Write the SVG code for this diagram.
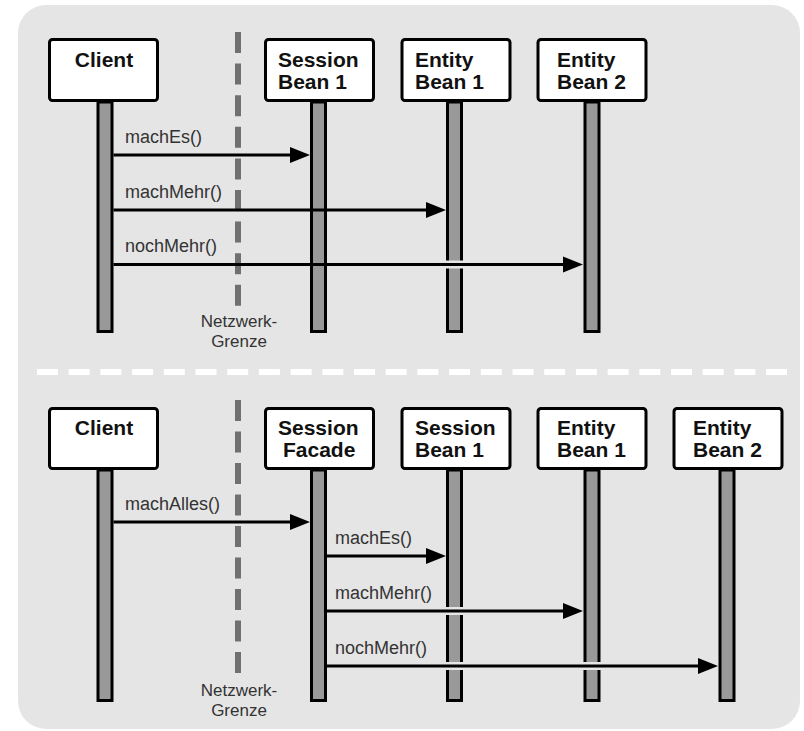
<svg xmlns="http://www.w3.org/2000/svg" width="804" height="731" viewBox="0 0 804 731">
<defs>
<marker id="ah" markerUnits="userSpaceOnUse" markerWidth="20" markerHeight="16" refX="10" refY="8" orient="auto" overflow="visible">
<path d="M0,0 L20,8 L0,16 Z" fill="#000"/>
</marker>
</defs>
<style>
.box{fill:#fff;stroke:#000;stroke-width:3}
.life{fill:#999;stroke:#000;stroke-width:3}
.lbl{font-family:"Liberation Sans",Arial,sans-serif;font-size:21px;font-weight:bold;fill:#111}
.msg{font-family:"Liberation Sans",Arial,sans-serif;font-size:18px;fill:#333}
.nt{font-family:"Liberation Sans",Arial,sans-serif;font-size:17px;fill:#333}
.net{fill:none;stroke:#707070;stroke-width:6}
.halo{stroke:#e5e5e5;stroke-width:8;fill:none}
.arr{stroke:#000;stroke-width:3;fill:none;marker-end:url(#ah)}
</style>
<rect x="18" y="5" width="782" height="724" rx="28" fill="#e5e5e5"/>
<line x1="37" y1="372" x2="787" y2="372" stroke="#fff" stroke-width="6" stroke-dasharray="21 10.7"/>

<g id="network-top">
<line class="net" x1="238" y1="32" x2="238" y2="306" stroke-dasharray="21 10.6"/>
<text class="nt" text-anchor="middle" x="239" y="327">Netzwerk-</text>
<text class="nt" text-anchor="middle" x="239" y="347">Grenze</text>
</g>
<g id="network-bottom">
<line class="net" x1="238" y1="400" x2="238" y2="673" stroke-dasharray="21 10.5"/>
<text class="nt" text-anchor="middle" x="239" y="696">Netzwerk-</text>
<text class="nt" text-anchor="middle" x="239" y="716">Grenze</text>
</g>

<!-- top section nodes -->
<g id="t-client">
<rect class="life" x="98" y="102" width="14" height="229.5"/>
<rect class="box" x="49.5" y="39.5" width="108" height="61" rx="3"/>
<text class="lbl" text-anchor="middle" x="104" y="67">Client</text>
</g>
<g id="t-session1">
<rect class="life" x="311.5" y="102" width="14" height="229.5"/>
<rect class="box" x="265.5" y="39.5" width="108" height="61" rx="3"/>
<text class="lbl" x="278" y="67">Session</text>
<text class="lbl" x="278" y="89">Bean 1</text>
</g>
<g id="t-entity1">
<rect class="life" x="447.5" y="102" width="14" height="229.5"/>
<rect class="box" x="402" y="39.5" width="108" height="61" rx="3"/>
<text class="lbl" x="415" y="67">Entity</text>
<text class="lbl" x="415" y="89">Bean 1</text>
</g>
<g id="t-entity2">
<rect class="life" x="585" y="102" width="14" height="229.5"/>
<rect class="box" x="538" y="39.5" width="108" height="61" rx="3"/>
<text class="lbl" x="557" y="67">Entity</text>
<text class="lbl" x="557" y="89">Bean 2</text>
</g>

<!-- bottom section nodes -->
<g id="b-client">
<rect class="life" x="98" y="470" width="14" height="230.5"/>
<rect class="box" x="49.5" y="408.5" width="108" height="60" rx="3"/>
<text class="lbl" text-anchor="middle" x="104" y="435">Client</text>
</g>
<g id="b-facade">
<rect class="life" x="311.5" y="470" width="14" height="230.5"/>
<rect class="box" x="265.5" y="408.5" width="108" height="60" rx="3"/>
<text class="lbl" x="278" y="435">Session</text>
<text class="lbl" x="283" y="457">Facade</text>
</g>
<g id="b-session1">
<rect class="life" x="447.5" y="470" width="14" height="230.5"/>
<rect class="box" x="402" y="408.5" width="108" height="60" rx="3"/>
<text class="lbl" x="415" y="435">Session</text>
<text class="lbl" x="415" y="457">Bean 1</text>
</g>
<g id="b-entity1">
<rect class="life" x="585" y="470" width="14" height="230.5"/>
<rect class="box" x="538" y="408.5" width="108" height="60" rx="3"/>
<text class="lbl" x="557" y="435">Entity</text>
<text class="lbl" x="557" y="457">Bean 1</text>
</g>
<g id="b-entity2">
<rect class="life" x="720" y="470" width="14" height="230.5"/>
<rect class="box" x="674" y="408.5" width="108" height="60" rx="3"/>
<text class="lbl" x="693" y="435">Entity</text>
<text class="lbl" x="693" y="457">Bean 2</text>
</g>

<g id="connectors">
<line class="halo" x1="330" y1="264.5" x2="572" y2="264.5"/>
<line class="halo" x1="330" y1="611" x2="572" y2="611"/>
<line class="halo" x1="330" y1="666" x2="708" y2="666"/>
<line class="arr" x1="113.5" y1="155" x2="300" y2="155"/>
<text class="msg" x="125" y="143">machEs()</text>
<line class="arr" x1="113.5" y1="210" x2="436" y2="210"/>
<text class="msg" x="125" y="198">machMehr()</text>
<line class="arr" x1="113.5" y1="264.5" x2="573" y2="264.5"/>
<text class="msg" x="125" y="252">nochMehr()</text>
<line class="arr" x1="113.5" y1="522" x2="300" y2="522"/>
<text class="msg" x="125" y="510">machAlles()</text>
<line class="arr" x1="327" y1="556" x2="436" y2="556"/>
<text class="msg" x="335" y="544">machEs()</text>
<line class="arr" x1="327" y1="611" x2="573" y2="611"/>
<text class="msg" x="335" y="599">machMehr()</text>
<line class="arr" x1="327" y1="666" x2="708" y2="666"/>
<text class="msg" x="335" y="654">nochMehr()</text>
</g>
</svg>
